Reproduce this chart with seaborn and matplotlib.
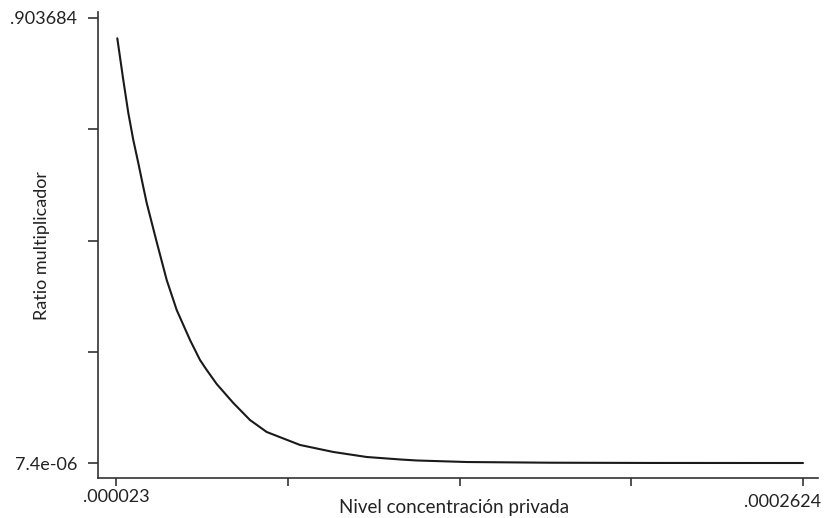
import numpy as np
import pandas as pd
import matplotlib
matplotlib.use('Agg')
import matplotlib.pyplot as plt
import matplotlib.transforms as mtransforms
import seaborn as sns

# Data
nivel = [2.345e-5, 2.554e-5, 2.729e-5, 2.903e-5, 3.077e-5, 3.251e-5, 3.370e-5,
         3.718e-5, 4.067e-5, 4.415e-5, 4.879e-5, 5.227e-5, 5.461e-5, 5.809e-5,
         6.388e-5, 6.969e-5, 7.551e-5, 8.714e-5, 9.872e-5, 1.1036e-4, 1.2221e-4,
         1.2789e-4, 1.4531e-4, 1.7424e-4, 2.0908e-4, 2.624e-4]
ratio = [0.8625, 0.7778, 0.7108, 0.6559, 0.6092, 0.5605, 0.5280,
         0.4488, 0.3716, 0.3107, 0.2498, 0.2092, 0.1889, 0.1604,
         0.1219, 0.0873, 0.0630, 0.0366, 0.0224, 0.0122, 0.0071,
         0.0051, 0.0020, 0.0006, 0.0001, 7.4e-6]

x_min, x_max = 0.000023, 0.0002624
y_min, y_max = 7.4e-06, 0.903684
x_labels = ['.000023', '', '', '', '.0002624']
y_labels = ['7.4e-06', '', '', '', '.903684']

df = pd.DataFrame({'nivel': nivel, 'ratio': ratio})

sns.set_style('white')
plt.rcParams['font.family'] = ['Lato', 'DejaVu Sans']

fig = plt.figure(figsize=(8.26, 5.18), dpi=100)
ax = fig.add_axes([98/826, 40/518, 720/826, 466/518])

sns.lineplot(data=df, x='nivel', y='ratio', ax=ax, color='#1a1a1a', linewidth=1.5, sort=True)

# axis limits a little outside min/max (Stata style)
xpx = (x_max - x_min) / 687.0
ypx = (y_max - y_min) / 445.0
ax.set_xlim(x_min - 18*xpx, x_max + 15*xpx)
ax.set_ylim(y_min - 15*ypx, y_max + 6*ypx)

ax.set_xticks(np.linspace(x_min, x_max, 5))
ax.set_xticklabels(x_labels)
ax.set_yticks(np.linspace(y_min, y_max, 5))
ax.set_yticklabels(y_labels)

for s in ['top', 'right']:
    ax.spines[s].set_visible(False)
for s in ['left', 'bottom']:
    ax.spines[s].set_color('#333333')
    ax.spines[s].set_linewidth(1.2)

ax.tick_params(axis='both', which='major', direction='out', color='#333333', width=1.2,
               labelsize=13, labelcolor='#222222', bottom=True, left=True)
ax.tick_params(axis='y', length=7, pad=8)
ax.tick_params(axis='x', length=6, pad=2)

ax.set_xlabel('Nivel concentración privada', fontsize=13.5, color='#222222')
ax.set_ylabel('Ratio multiplicador', fontsize=13, color='#222222')
ax.xaxis.set_label_coords(0.494, -0.045)
ax.yaxis.set_label_coords(-0.066, 0.5)

# last x label sits a bit left/below of its tick
last = ax.get_xticklabels()[-1]
last.set_transform(last.get_transform() + mtransforms.ScaledTranslation(-20/100, -5/100, fig.dpi_scale_trans))

fig.savefig('out.png', dpi=100)
